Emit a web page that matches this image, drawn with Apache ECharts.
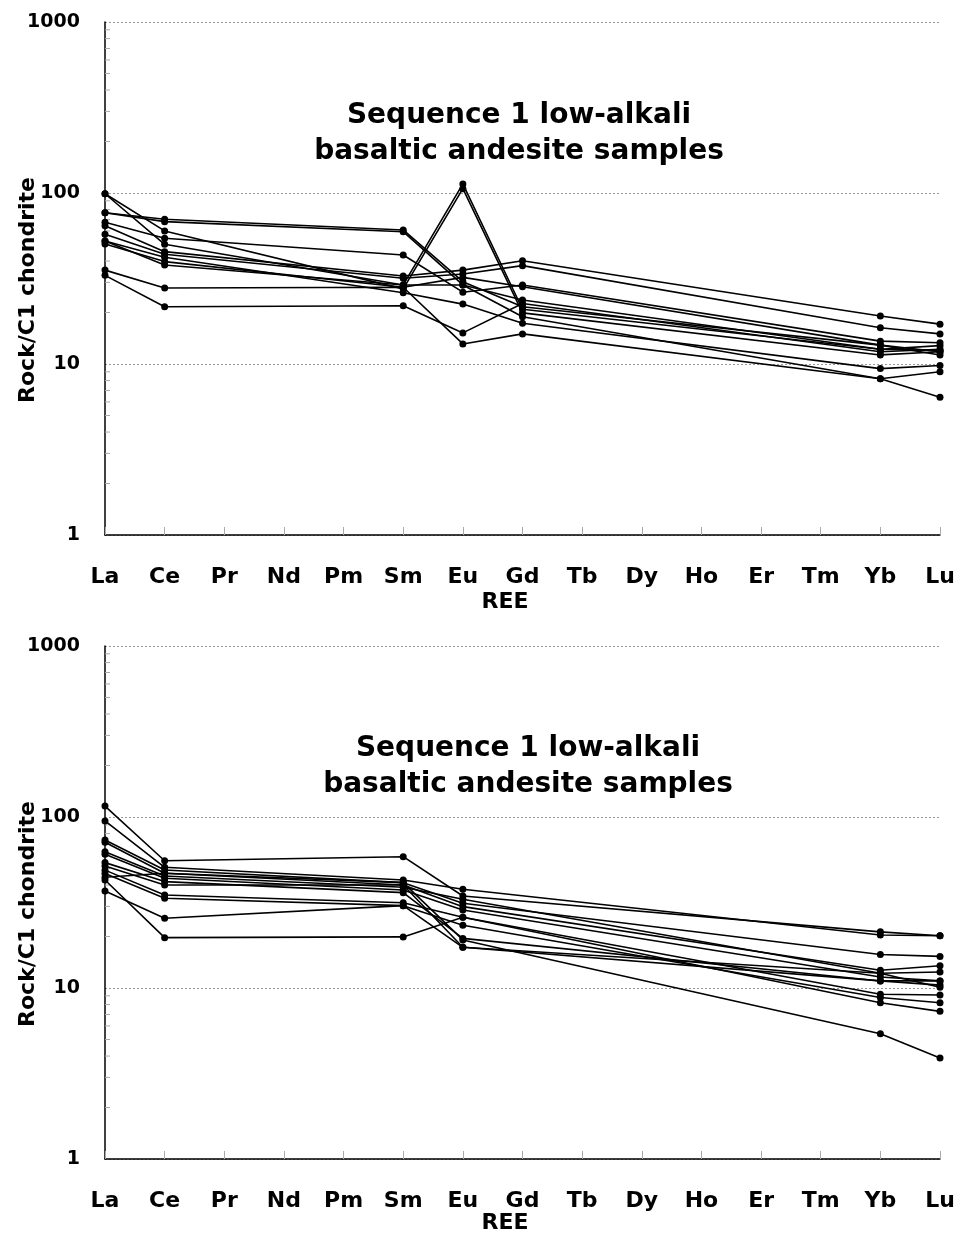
<!DOCTYPE html>
<html>
<head>
<meta charset="utf-8">
<script src="https://cdn.jsdelivr.net/npm/echarts@6/dist/echarts.min.js"></script>
<style>
html,body{margin:0;padding:0;background:#fff;}
#chart{width:963px;height:1237px;}
</style>
</head>
<body>
<div id="chart"></div>
<script>
// ---- categories and tick labels ----
const ree = ['La','Ce','Pr','Nd','Pm','Sm','Eu','Gd','Tb','Dy','Ho','Er','Tm','Yb','Lu'];
const yTickLabels = [1, 10, 100, 1000];
const minorTickValues = [2,3,4,5,6,7,8,9,20,30,40,50,60,70,80,90,200,300,400,500,600,700,800,900];
const titleText = 'Sequence 1 low-alkali\nbasaltic andesite samples';
const yName = 'Rock/C1 chondrite';
const xName = 'REE';

// ---- top panel samples (La, Ce, Sm, Eu, Gd, Yb, Lu) ----
const top1  = [99,   50.1, null,null,null, 29.0, 113,  20.9, null,null,null,null,null, 12.2, 12.0];
const top2  = [99,   60.0, null,null,null, 27.5, 106,  19.9, null,null,null,null,null, 11.3, 11.8];
const top3  = [76.7, 70.2, null,null,null, 60.8, 30.3, 21.6, null,null,null,null,null, 12.9, 11.3];
const top4  = [76.7, 68.0, null,null,null, 59.4, 29.0, 18.9, null,null,null,null,null, 8.2,  9.0];
const top5  = [67.4, 54.4, null,null,null, 43.4, 26.3, 29.0, null,null,null,null,null, 13.6, 13.3];
const top6  = [64.4, 45.4, null,null,null, 32.7, 35.4, 40.2, null,null,null,null,null, 19.1, 17.1];
const top7  = [57.3, 43.8, null,null,null, 31.7, 33.6, 37.6, null,null,null,null,null, 16.3, 15.0];
const top8  = [52.4, 42.1, null,null,null, 26.1, 22.4, 17.3, null,null,null,null,null, 9.4,  9.8];
const top9  = [50.3, 39.7, null,null,null, 28.1, 32.1, 28.3, null,null,null,null,null, 12.9, 11.8];
const top10 = [52.4, 37.9, null,null,null, 29.0, 29.0, 23.7, null,null,null,null,null, 12.2, 12.8];
const top11 = [35.4, 27.8, null,null,null, 28.1, 13.1, 15.0, null,null,null,null,null, 8.2,  6.4];
const top12 = [33.0, 21.6, null,null,null, 21.9, 15.2, 22.6, null,null,null,null,null, 11.8, 12.2];

// ---- bottom panel samples (La, Ce, Sm, Eu, Yb, Lu) ----
const bot1  = [115.9, 55.5, null,null,null, 58.6, 34.5, null,null,null,null,null,null, 21.3, 20.2];
const bot2  = [94.8,  50.8, null,null,null, 42.8, 37.8, null,null,null,null,null,null, 20.4, 20.2];
const bot3  = [73.3,  49.0, null,null,null, 41.3, 31.3, null,null,null,null,null,null, 15.7, 15.3];
const bot4  = [71.1,  46.9, null,null,null, 40.0, 29.9, null,null,null,null,null,null, 12.7, 13.5];
const bot5  = [62.7,  45.2, null,null,null, 38.8, 33.0, null,null,null,null,null,null, 12.2, 12.4];
const bot6  = [60.5,  43.8, null,null,null, 37.4, 28.6, null,null,null,null,null,null, 11.6, 11.0];
const bot7  = [54.1,  41.9, null,null,null, 36.1, 19.5, null,null,null,null,null,null, 11.0, 10.4];
const bot8  = [51.7,  40.0, null,null,null, 40.0, 17.3, null,null,null,null,null,null, 12.2, 10.1];
const bot9  = [48.9,  35.0, null,null,null, 31.5, 25.9, null,null,null,null,null,null, 9.2,  9.1];
const bot10 = [46.8,  33.5, null,null,null, 30.3, 23.3, null,null,null,null,null,null, 8.8,  8.2];
const bot11 = [42.8,  19.7, null,null,null, 19.9, 25.9, null,null,null,null,null,null, 8.2,  7.3];
const bot12 = [36.9,  25.6, null,null,null, 30.3, 17.3, null,null,null,null,null,null, 11.0, 11.0];
const bot13 = [44.4,  46.9, null,null,null, 41.3, 19.1, null,null,null,null,null,null, 5.4,  3.9];

const topSamples = [top1,top2,top3,top4,top5,top6,top7,top8,top9,top10,top11,top12];
const botSamples = [bot1,bot2,bot3,bot4,bot5,bot6,bot7,bot8,bot9,bot10,bot11,bot12,bot13];

const FONT = 'DejaVu Sans';

function xAxisCfg(gi) {
  return {
    type: 'category', gridIndex: gi, data: ree, boundaryGap: false,
    axisLine: { show: true, lineStyle: { color: '#000', width: 1.5 } },
    axisTick: { show: true, inside: true, length: 8, lineStyle: { color: '#aaa', width: 1 } },
    axisLabel: { margin: 31, color: '#000', fontFamily: FONT, fontWeight: 'bold', fontSize: 22, interval: 0 },
    splitLine: { show: false }
  };
}
function yAxisCfg(gi) {
  return {
    type: 'log', logBase: 10, gridIndex: gi, min: 1, max: 1000,
    axisLine: { show: true, lineStyle: { color: '#000', width: 1.5 } },
    axisTick: { show: false },
    axisLabel: {
      margin: 25, color: '#000', fontFamily: FONT, fontWeight: 'bold', fontSize: 19,
      formatter: function (v) { return yTickLabels.indexOf(Math.round(v)) >= 0 ? String(Math.round(v)) : ''; }
    },
    splitLine: { show: true, lineStyle: { color: '#999', type: [2, 2], width: 1 } },
    minorTick: { show: false }
  };
}

const series = [];
function addSamples(samples, gi) {
  samples.forEach(function (arr) {
    series.push({
      type: 'line', xAxisIndex: gi, yAxisIndex: gi, data: arr, connectNulls: true,
      symbol: 'circle', symbolSize: 7, showSymbol: true,
      itemStyle: { color: '#000' }, lineStyle: { color: '#000', width: 1.6 },
      animation: false, silent: true, z: 3
    });
  });
  // minor ticks of the log axis, placed through the axis scale
  series.push({
    type: 'custom', xAxisIndex: gi, yAxisIndex: gi, data: minorTickValues.map(function (v) { return [0, v]; }),
    renderItem: function (params, api) {
      const p = api.coord([0, api.value(1)]);
      return { type: 'line', shape: { x1: p[0], y1: p[1], x2: p[0] + 5, y2: p[1] }, style: { stroke: '#aaa', lineWidth: 1 } };
    },
    animation: false, silent: true, z: 2
  });
}
addSamples(topSamples, 0);
addSamples(botSamples, 1);

function txt(x, y, text, size, rot) {
  return {
    type: 'text', x: x, y: y, rotation: rot || 0, z: 10,
    style: { text: text, fontFamily: FONT, fontWeight: 'bold', fontSize: size, fill: '#000',
             textAlign: 'center', textVerticalAlign: 'middle', align: 'center', verticalAlign: 'middle', lineHeight: 36 }
  };
}

const option = {
  backgroundColor: '#fff',
  animation: false,
  grid: [
    { left: 105, right: 23, top: 22, height: 513, containLabel: false },
    { left: 105, right: 23, top: 646, height: 513, containLabel: false }
  ],
  xAxis: [xAxisCfg(0), xAxisCfg(1)],
  yAxis: [yAxisCfg(0), yAxisCfg(1)],
  series: series,
  graphic: [
    txt(519, 134, titleText, 28),
    txt(528, 767, titleText, 28),
    txt(28, 290, yName, 22, Math.PI / 2),
    txt(28, 914, yName, 22, Math.PI / 2),
    txt(505, 602, xName, 22),
    txt(505, 1223, xName, 22)
  ]
};

const chart = echarts.init(document.getElementById('chart'), null, { renderer: 'canvas' });
chart.setOption(option);
</script>
</body>
</html>
